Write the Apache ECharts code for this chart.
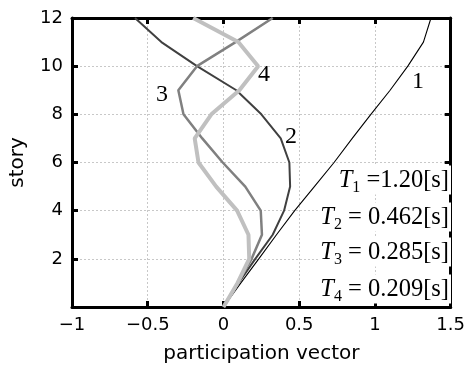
<!DOCTYPE html>
<html><head><meta charset="utf-8">
<script src="https://cdn.jsdelivr.net/npm/echarts@6/dist/echarts.min.js"></script>
<style>html,body{margin:0;padding:0;background:#fff}#c{width:468px;height:369px}</style>
</head><body><div id="c"></div>
<script>
const stories = [0,1,2,3,4,5,6,7,8,9,10,11,12];
const mode1 = [0, 0.115, 0.233, 0.35, 0.47, 0.60, 0.73, 0.85, 0.973, 1.10, 1.217, 1.32, 1.37];
const mode2 = [0, 0.10, 0.21, 0.325, 0.40, 0.44, 0.435, 0.378, 0.25, 0.085, -0.175, -0.41, -0.584];
const mode3 = [0, 0.095, 0.186, 0.254, 0.246, 0.144, -0.005, -0.14, -0.264, -0.298, -0.175, 0.08, 0.325];
const mode4 = [0, 0.093, 0.17, 0.165, 0.09, -0.048, -0.165, -0.19, -0.08, 0.105, 0.229, 0.098, -0.2];
const modeNames = ['1','2','3','4'];
const periods = ['1.20','0.462','0.285','0.209'];
const xTicks = [-1,-0.5,0,0.5,1,1.5];
const yTicks = [2,4,6,8,10,12];

const modes = [mode1, mode2, mode3, mode4];
const colors = ['#000000','#404040','#808080','#c0c0c0'];
const widths = [1.1, 2, 2.5, 4];
const sansFont = 'DejaVu Sans';
const serifFont = 'Liberation Serif';

const chart = echarts.init(document.getElementById('c'), null, {renderer:'canvas'});
const fmtX = v => String(v).replace('-', '\u2212');
const axisBase = {
  axisLine:{show:true, onZero:false, lineStyle:{color:'#000', width:3}},
  axisTick:{show:true, inside:true, length:6, lineStyle:{color:'#000', width:3}},
};
const option = {
  animation:false,
  grid:{left:64, right:12, top:18, bottom:62},
  xAxis:[
    Object.assign({type:'value', min:-1, max:1.5, interval:0.5, position:'bottom',
      name:'participation vector', nameLocation:'middle', nameGap:37,
      nameTextStyle:{fontFamily:sansFont, fontSize:20, color:'#000'},
      axisLabel:{fontFamily:sansFont, fontSize:18, color:'#000', margin:9, formatter:fmtX},
      splitLine:{show:true, lineStyle:{color:'#c8c8c8', type:[2,2], width:1}}}, axisBase),
    Object.assign({type:'value', min:-1, max:1.5, interval:0.5, position:'top',
      axisLabel:{show:false}, splitLine:{show:false}}, axisBase)
  ],
  yAxis:[
    Object.assign({type:'value', min:0, max:12, interval:2, position:'left',
      name:'story', nameLocation:'middle', nameGap:44,
      nameTextStyle:{fontFamily:sansFont, fontSize:20, color:'#000'},
      axisLabel:{fontFamily:sansFont, fontSize:18, color:'#000', margin:9,
        formatter: v => yTicks.indexOf(v) >= 0 ? String(v) : ''},
      splitLine:{show:true, lineStyle:{color:'#c8c8c8', type:[2,2], width:1}}}, axisBase),
    Object.assign({type:'value', min:0, max:12, interval:2, position:'right',
      axisLabel:{show:false}, splitLine:{show:false}}, axisBase)
  ],
  series: modes.map((m,i)=>({
    type:'line', name:modeNames[i], xAxisIndex:0, yAxisIndex:0,
    data: stories.map((s,k)=>[m[k], s]),
    showSymbol:false, symbol:'none', smooth:false, z:2+i,
    lineStyle:{color:colors[i], width:widths[i]}
  }))
};
chart.setOption(option);

// annotations
const labelPos = [[418,82],[291,137],[162,95],[264,75]];
const txt = [];
modeNames.forEach((n,i)=>{
  txt.push({type:'text', x:labelPos[i][0], y:labelPos[i][1], z:100,
    style:{text:n, fontFamily:serifFont, fontSize:24, fill:'#000', align:'center', verticalAlign:'middle'}});
});
const tY = [180, 217, 252, 289];
periods.forEach((p,i)=>{
  const eq = i === 0 ? ' =' : ' = ';
  txt.push({type:'text', x:451, y:tY[i], z:100,
    style:{
      text:'{t|T}{s|'+(i+1)+'}{n|'+eq+p+'[s]}',
      align:'right', verticalAlign:'middle',
      rich:{
        t:{fontFamily:serifFont, fontStyle:'italic', fontSize:24.5, lineHeight:28, verticalAlign:'middle', fill:'#000'},
        s:{fontFamily:serifFont, fontSize:16, lineHeight:16, padding:[13,0,0,0], verticalAlign:'top', fill:'#000'},
        n:{fontFamily:serifFont, fontSize:24.5, lineHeight:28, verticalAlign:'middle', fill:'#000'}
      },
      backgroundColor:'#ffffff', padding:[1,2,0,2]
    }});
});
chart.setOption({graphic:{elements:txt}});
</script></body></html>
